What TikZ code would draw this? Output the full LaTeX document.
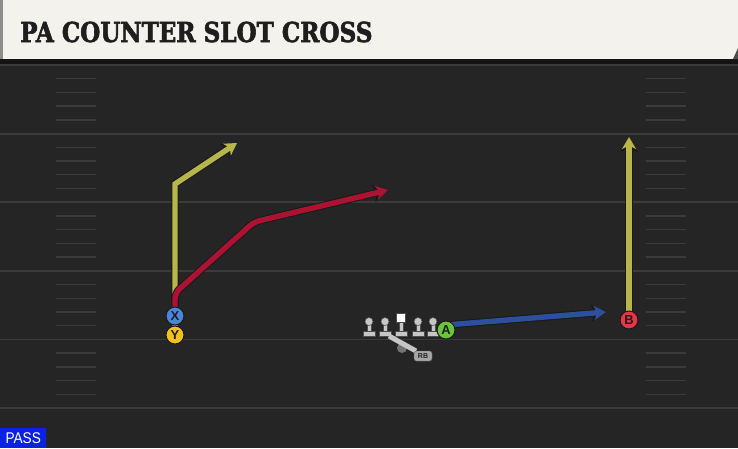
\documentclass[tikz,border=0pt]{standalone}
\usepackage{fontspec}
\usepackage{tikz}
\usetikzlibrary{arrows.meta}
\setmainfont{Liberation Sans}
\newfontfamily\titlefont[FakeStretch=0.84,FakeBold=2]{DejaVu Serif}
\newfontfamily\tagfont[FakeStretch=0.88]{Liberation Sans}
\definecolor{headbg}{HTML}{F4F2EC}
\definecolor{headink}{HTML}{1E1E1E}
\definecolor{fieldbg}{HTML}{252525}
\definecolor{yardgray}{HTML}{3B3B3B}
\definecolor{routeyellow}{HTML}{B6B64A}
\definecolor{routered}{HTML}{AE1232}
\definecolor{routeblue}{HTML}{2C4F9E}
\definecolor{xblue}{HTML}{4A84DC}
\definecolor{yyellow}{HTML}{F2C11E}
\definecolor{agreen}{HTML}{6CC43A}
\definecolor{bred}{HTML}{E2384A}
\definecolor{linegray}{HTML}{C6C6C6}
\definecolor{passblue}{HTML}{0A22E4}
\pgfdeclarelayer{field}
\pgfdeclarelayer{routes}
\pgfsetlayers{field,routes,main}
\tikzstyle{yardline} = [draw=yardgray,line width=1.8pt]
\tikzstyle{hashmark} = [draw=yardgray,line width=1.4pt]
\tikzstyle{player} = [draw=black!90,circle,line width=1pt,inner sep=0pt,minimum size=18pt,
                      text=headink,font=\fontsize{13}{13}\selectfont\bfseries]
\tikzstyle{routeback} = [draw=black!90,line width=7.4pt,-{Stealth[length=15pt,width=17pt,inset=4pt]}]
\tikzstyle{route} = [line width=5.4pt,-{Stealth[length=12pt,width=14pt,inset=3.4pt]}]
\tikzstyle{rbtag} = [draw=black!60,fill=black!35,rounded corners=2.5pt,inner sep=0pt,
                     minimum width=18pt,minimum height=10pt,text=headink,
                     font=\fontsize{7}{7}\selectfont\bfseries]
\tikzstyle{passtag} = [fill=passblue,text=white,inner sep=0pt,minimum width=46pt,minimum height=20pt,
                       font=\tagfont\fontsize{15.5}{15.5}\selectfont]

\begin{document}
\begin{tikzpicture}[x=1pt,y=-1pt]
    \useasboundingbox (0,0) rectangle (738,448);
    % field with yard lines and hashes
    \begin{pgfonlayer}{field}
      \fill[fieldbg] (0,59) rectangle (738,448);
      \foreach \k in {0,...,5}
        \draw[yardline] (0,{65+68.6*\k}) -- (738,{65+68.6*\k});
      \foreach \s in {0,...,4}
        \foreach \h in {1,...,4} {
          \draw[hashmark] (56,{65+68.6*\s+13.72*\h}) -- (96,{65+68.6*\s+13.72*\h});
          \draw[hashmark] (646,{65+68.6*\s+13.72*\h}) -- (686,{65+68.6*\s+13.72*\h});
        }
    \end{pgfonlayer}
    % header
    \fill[black!45] (0,0) rectangle (3,59);
    \fill[headbg] (3,0) rectangle (738,59);
    \fill[black!92] (0,59) rectangle (738,64);
    \fill[black!70] (733,59) -- (738,48) -- (738,59) -- cycle;
    \node[anchor=base west,inner sep=0pt,text=headink] (title) at (20,42)
      {\titlefont\fontsize{27.5}{27.5}\selectfont\bfseries PA COUNTER SLOT CROSS};
    % offensive line
    \foreach \lx in {369,385,401,418,433} {
      \fill[linegray,draw=black!70,line width=0.5pt] (\lx-2.2,321) rectangle (\lx+2.2,333);
      \fill[linegray,draw=black!70,line width=0.5pt] (\lx-6,331.5) rectangle (\lx+6,336.5);
    }
    \foreach \lx in {369,385,418,433}
      \fill[linegray,draw=black!70,line width=0.5pt] (\lx,321.5) circle (4);
    \fill[white,draw=black!70,line width=0.5pt] (396.5,313.5) rectangle (405.5,322);
    % running back
    \fill[black!55] (402,348) circle (5);
    \draw[linegray,line width=5pt] (389,336) -- (416,351);
    \node[rbtag] (rb) at (423,356) {RB};
    % players
    \node[player,fill=xblue] (X) at (175,316) {X};
    \node[player,fill=yyellow] (Y) at (175,335) {Y};
    \node[player,fill=agreen] (A) at (446,330) {A};
    \node[player,fill=bred] (B) at (629,320) {B};
    \coordinate (ycut) at (175,184);
    \coordinate (yend) at (237,143);
    \coordinate (xup) at (175,293);
    \coordinate (xbend) at (254,222);
    \coordinate (xend) at (388,190);
    \coordinate (aend) at (606,312);
    \coordinate (bend) at (629,137);
    % now the routes
    \begin{pgfonlayer}{routes}
      \draw[routeback] (Y.center) -- (ycut) -- (yend);
      \draw[route,routeyellow] (Y.center) -- (ycut) -- (yend);
      \draw[routeback,rounded corners=6pt] (X.center) -- (xup) -- (xbend) -- (xend);
      \draw[route,routered,rounded corners=6pt] (X.center) -- (xup) -- (xbend) -- (xend);
      \draw[routeback] ([yshift=5pt]A.center) -- (aend);
      \draw[route,routeblue] ([yshift=5pt]A.center) -- (aend);
      \draw[routeback] (B.center) -- (bend);
      \draw[route,routeyellow] (B.center) -- (bend);
    \end{pgfonlayer}
    \node[passtag,anchor=south west] (pass) at (0,448) {PASS};
\end{tikzpicture}
\end{document}
